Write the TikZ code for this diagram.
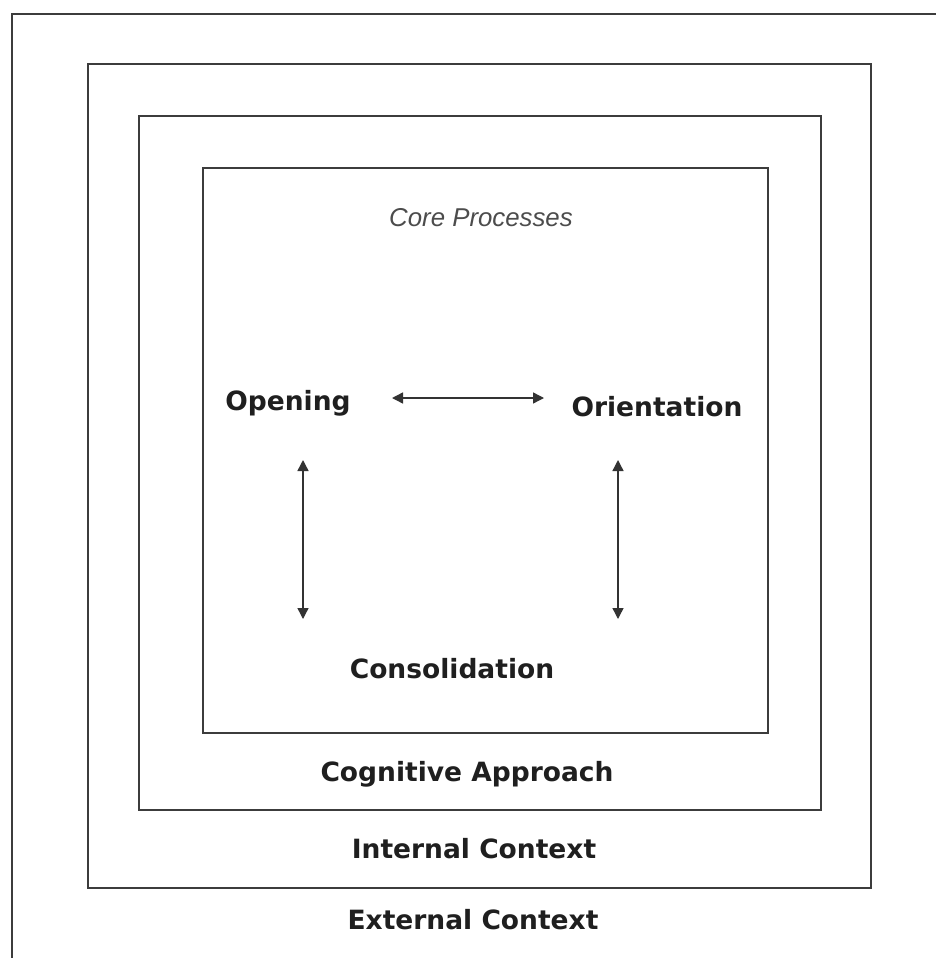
\documentclass[tikz,border=0pt]{standalone}
\usepackage{fontspec}
\setmainfont{DejaVu Sans}
\newfontfamily\corefont{Liberation Sans}
\usetikzlibrary{arrows.meta}
\definecolor{linegray}{HTML}{3C3C3C}
\tikzset{
  frame/.style={draw=linegray, line width=2pt},
  lbl/.style={anchor=base, inner sep=0pt, font=\bfseries\fontsize{26.5}{30}\selectfont, text=black!88},
  link/.style={draw=black!80, line width=1.4pt, {Triangle[length=11pt,width=11pt]}-{Triangle[length=11pt,width=11pt]}}
}
\begin{document}
\begin{tikzpicture}[x=1pt,y=-1pt]
\useasboundingbox (0,0) rectangle (936,958);
\fill[white] (0,0) rectangle (936,958);
\clip (0,0) rectangle (936,958);
% nested frames
\draw[frame] (12,14) rectangle (960,990);
\draw[frame] (88,64) rectangle (871,888);
\draw[frame] (139,116) rectangle (821,810);
\draw[frame] (203,168) rectangle (768,733);
% labels
\node[anchor=base, inner sep=0pt, font=\corefont\itshape\fontsize{25.8}{29}\selectfont, text=black!70] (core) at (481,226) {Core Processes};
\node[lbl] (opening) at (288,410) {Opening};
\node[lbl] (orient) at (657,416) {Orientation};
\node[lbl] (consol) at (452,678) {Consolidation};
\node[lbl] (cog) at (467,781) {Cognitive Approach};
\node[lbl] (intc) at (474,858) {Internal Context};
\node[lbl] (extc) at (473,929) {External Context};
% connectors
\coordinate (h1) at (392,398);
\coordinate (h2) at (544,398);
\coordinate (l1) at (303,460);
\coordinate (l2) at (303,619);
\coordinate (r1) at (618,460);
\coordinate (r2) at (618,619);
\draw[link] (h1) -- (h2);
\draw[link] (l1) -- (l2);
\draw[link] (r1) -- (r2);
\end{tikzpicture}
\end{document}
